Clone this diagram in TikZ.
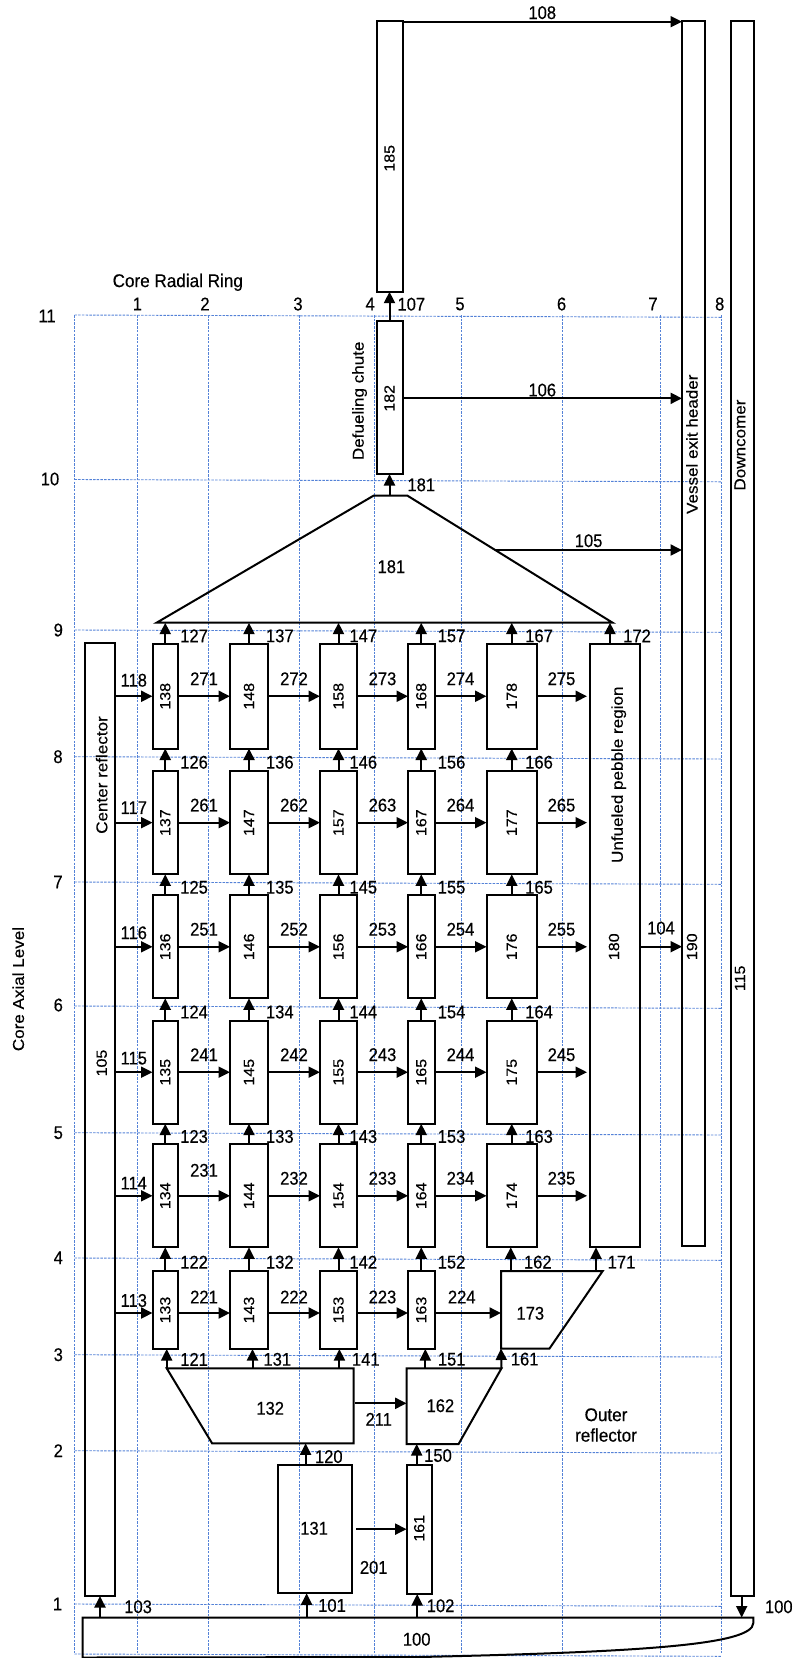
\documentclass[tikz,border=0pt]{standalone}
\usepackage{fontspec}
\setmainfont{Liberation Sans}
\newfontfamily\Hf[FakeStretch=0.9,FakeBold=0.3]{Liberation Sans}
\newfontfamily\Wf[FakeStretch=0.93,FakeBold=0.3]{Liberation Sans}
\newfontfamily\Vf[FakeStretch=1.08,FakeBold=0.3]{Liberation Sans}
\usetikzlibrary{arrows.meta,calc}
\definecolor{gridblue}{RGB}{84,130,215}
\newcommand\hfs{\Hf\fontsize{18.4}{20}\selectfont}
\newcommand\hws{\Wf\fontsize{18.4}{20.5}\selectfont}
\newcommand\vws{\Vf\fontsize{15.8}{19}\selectfont}
\newcommand\vns{\Vf\fontsize{14.8}{17}\selectfont}
% horizontal arrows of one row: #1 row, #2 prefix, #3 y offset, #4 shift of 11x label, #5 shift of first ring label, #6 shift of other ring labels
\newcommand\rowar[6]{%
\draw[ar] ($(c1#1.west -| n105.east)+(0,#3)$) -- ($(c1#1.west)+(0,#3)$) node[hl, midway, yshift=#4pt] (l11#1) {11#1};
\draw[ar] ($(c1#1.east)+(0,#3)$) -- ($(c2#1.west)+(0,#3)$) node[hl, midway, yshift=#5pt] (l#21) {#21};
\draw[ar] ($(c2#1.east)+(0,#3)$) -- ($(c3#1.west)+(0,#3)$) node[hl, midway, yshift=#6pt] (l#22) {#22};
\draw[ar] ($(c3#1.east)+(0,#3)$) -- ($(c4#1.west)+(0,#3)$) node[hl, midway, yshift=#6pt] (l#23) {#23};}
\newcommand\rowend[2]{%
\draw[ar] (c4#1.east) -- (c5#1.west) node[hl, midway, yshift=17.5pt] (l#24) {#24};
\draw[ar, shorten >=3pt] (c5#1.east) -- (c5#1.east -| n180.west) node[hl, midway, yshift=17.5pt, xshift=-2pt] (l#25) {#25};}
\begin{document}
\begin{tikzpicture}[x=1pt,y=-1pt,
 bx/.style={draw, line width=2pt, inner sep=0pt, outer sep=0pt},
 sh/.style={line width=2pt},
 ar/.style={line width=2pt, -{Triangle[length=11.5pt,width=11pt]}},
 gl/.style={draw=gridblue, line width=0.9pt, dash pattern=on 2.5pt off 1.2pt},
 hl/.style={font=\hfs, inner sep=0pt},
 hw/.style={font=\hws, inner sep=0pt},
 vl/.style={font=\vns, inner sep=0pt, rotate=90},
 vw/.style={font=\vws, inner sep=0pt, rotate=90},
 vlab/.style={font=\hfs, inner sep=0pt, midway, anchor=west}]
\useasboundingbox (0,0) rectangle (793,1658);
% grid
\foreach \gx in {74.5,137.5,208.5,299.5,374,461,562.5,660.5,721}
  \draw[gl] (\gx,315) -- (\gx,1654);
\foreach \gy in {315,479.5,630,756.7,882,1006,1132.7,1258,1354.7,1450.7,1604,1654}
  \draw[gl] (74.5,\gy) -- (721,\gy+2.3);
% axis labels
\foreach \lv/\gy/\lx in {11/316/47,10/479/50,9/630/58.3,8/756.7/58,7/882/58,6/1005/58.3,5/1132.7/58.3,4/1257.7/58.3,3/1354.7/58.3,2/1450.7/58.3,1/1604/57.5}
  \node[hl] (lev\lv) at (\lx,\gy) {\lv};
\foreach \rg/\rx in {1/137.4,2/205,3/298,4/370.2,5/460,6/561.6,7/653,8/719.7}
  \node[hl] (ring\rg) at (\rx,304) {\rg};
\node[hw] (radial) at (177.8,282.3) {Core Radial Ring};
\node[vw] (axial) at (18.3,989) {Core Axial Level};
% large boxes
\node[bx, minimum width=50pt, minimum height=603.3pt] (n180) at (615,945.65) {};
\node[bx, minimum width=23pt, minimum height=1225pt] (n190) at (693.5,633.2) {};
\node[bx, minimum width=22.5pt, minimum height=1575.3pt] (n115) at (742.25,808.35) {};
\node[bx, minimum width=30pt, minimum height=953.3pt] (n105) at (100,1119.35) {};
\node[bx, minimum width=26pt, minimum height=271pt] (n185) at (389.5,156.2) {};
\node[bx, minimum width=26pt, minimum height=153.3pt] (n182) at (389.5,397.35) {};
\node[bx, minimum width=74.2pt, minimum height=128.3pt] (n131) at (314.9,1529.15) {};
\node[bx, minimum width=25.2pt, minimum height=129pt] (n161) at (419.2,1529.5) {};
\node[vw] (t180w) at (618.7,774.7) {Unfueled pebble region};
\node[vl] (t180) at (614,946.7) {180};
\node[vw] (t190w) at (692,444.2) {Vessel exit header};
\node[vl] (t190) at (692,946.7) {190};
\node[vw] (t115w) at (740,445) {Downcomer};
\node[vl] (t115) at (740,978.3) {115};
\node[vw] (t105w) at (101.7,775) {Center reflector};
\node[vl] (t105) at (101.7,1063) {105};
\node[vl] (t185) at (389.5,158.3) {185};
\node[vl] (t182) at (389.5,398.3) {182};
\node[vw] (t182w) at (359.6,400.8) {Defueling chute};
\node[hl] (t131) at (314.1,1528.3) {131};
\node[vl] (t161) at (419.2,1528.3) {161};
% column boxes
\foreach \ci/\cx/\cw/\ct in {1/165.25/25.5/13, 2/249/38/14, 3/338.5/37/15, 4/421.25/26.5/16, 5/511.75/50.5/17}{
  \foreach \ri/\cy/\ch in {4/1195.8/103, 5/1072.2/103, 6/946.8/103, 7/822.65/103.3, 8/696.25/104.5}{
    \node[bx, minimum width=\cw pt, minimum height=\ch pt] (c\ci\ri) at (\cx,\cy) {};
    \node[vl] (t\ci\ri) at (\cx,\cy) {\ct\ri};
  }}
\foreach \ci/\cx/\cw/\ct in {1/165.25/25.5/13, 2/249/38/14, 3/338.5/37/15, 4/421.25/26.5/16}{
  \node[bx, minimum width=\cw pt, minimum height=78pt] (c\ci3) at (\cx,1310) {};
  \node[vl] (t\ci3) at (\cx,1310) {\ct3};}
% trapezoids
\coordinate (a181bl) at (156.6,622.7);
\coordinate (a181tl) at (373.5,495.7);
\coordinate (a181tr) at (407.5,495.7);
\coordinate (a181br) at (612.6,622.7);
\draw[sh] (a181bl) -- (a181tl) -- (a181tr) -- (a181br) -- cycle;
\node[hl] (t181) at (391.4,566.7) {181};
\coordinate (a132tl) at (166.7,1368.3);
\coordinate (a132tr) at (353.5,1368.3);
\coordinate (a132br) at (353.5,1443.3);
\coordinate (a132bl) at (212.1,1443.3);
\draw[sh] (a132tl) -- (a132tr) -- (a132br) -- (a132bl) -- cycle;
\node[hl] (t132) at (270.2,1408.3) {132};
\coordinate (a162tl) at (406.6,1368.3);
\coordinate (a162tr) at (501.5,1368.3);
\coordinate (a162br) at (458.6,1444);
\coordinate (a162bl) at (406.6,1444);
\draw[sh] (a162tl) -- (a162tr) -- (a162br) -- (a162bl) -- cycle;
\node[hl] (t162) at (440.4,1405.7) {162};
\coordinate (a173tl) at (501,1271);
\coordinate (a173tr) at (602.7,1271);
\coordinate (a173br) at (549.5,1348.5);
\coordinate (a173bl) at (501,1348.5);
\draw[sh] (a173tl) -- (a173tr) -- (a173br) -- (a173bl) -- cycle;
\node[hl] (t173) at (530.3,1313.3) {173};
\coordinate (a100tl) at (82.7,1617.5);
\coordinate (a100tr) at (753.3,1617.5);
\draw[sh] (a100tl) -- (a100tr) -- (753.3,1623) .. controls (753,1645) and (640,1652) .. (420,1657) -- (82.7,1657.5) -- cycle;
\node[hl] (t100) at (416.7,1639.3) {100};
\node[hw, align=center] (outer) at (606,1425) {Outer\\reflector};
% top arrows
\coordinate (s108) at ($(n185.north east)+(0,1)$);
\draw[ar] (s108) -- (s108 -| n190.west) node[hl, midway, yshift=9pt] (l108) {108};
\draw[ar] (n182.north) -- (n185.south) node[vlab, xshift=7pt, yshift=2pt] (l107) {107};
\coordinate (s106) at ($(n182.east)+(0,1)$);
\draw[ar] (s106) -- (s106 -| n190.west) node[hl, midway, yshift=8.3pt] (l106) {106};
\coordinate (s105) at ($(a181tr)!0.4276!(a181br)$);
\draw[ar] (s105) -- (s105 -| n190.west) node[hl, midway, yshift=9.3pt] (l105) {105};
\draw[ar] (n182.south |- a181tl) -- (n182.south) node[vlab, xshift=17pt] (l181) {181};
% horizontal arrows in core
\rowar{8}{27}{0}{16}{17.5}{17.5}
\rowar{7}{26}{0}{15}{17.5}{17.5}
\rowar{6}{25}{0}{14}{17.5}{17.5}
\rowar{5}{24}{0}{14}{17.5}{17.5}
\rowar{4}{23}{0}{12.7}{25.5}{17.5}
\rowar{3}{22}{3}{12.5}{16}{16}
\foreach \ri/\pp in {8/27,7/26,6/25,5/24,4/23}{\rowend{\ri}{\pp}}
\draw[ar] ($(c43.east)+(0,3)$) -- ($(c43.east -| a173tl)+(0,3)$) node[hl, midway, yshift=16pt, xshift=-6pt] (l224) {224};
\draw[ar] (n180.east |- t180) -- (n190.west |- t180) node[hl, midway, yshift=18.7pt] (l104) {104};
% vertical arrows in core
\foreach \ci/\tt/\dx in {1/2/14, 2/3/16, 3/4/10, 4/5/15.5, 5/6/12.5}{
  \foreach \ri/\nn/\uu in {4/5/3, 5/6/4, 6/7/5, 7/8/6}{
    \draw[ar] (c\ci\ri.north) -- (c\ci\nn.south) node[vlab, xshift=\dx pt, yshift=-2.5pt] (v1\tt\uu) {1\tt\uu};}
  \draw[ar] (c\ci8.north) -- (c\ci8.north |- a181bl) node[vlab, xshift=\dx pt, yshift=-2.5pt] (v1\tt7) {1\tt7};
}
\foreach \ci/\tt/\dx in {1/2/14, 2/3/16, 3/4/10, 4/5/15.5}{
  \draw[ar] (c\ci3.north) -- (c\ci4.south) node[vlab, xshift=\dx pt, yshift=-3pt] (v1\tt2) {1\tt2};}
\coordinate (x162) at (510.7,0);
\draw[ar] (x162 |- a173tl) -- (x162 |- c54.south) node[vlab, xshift=12.3pt, yshift=-3pt] (v162) {162};
\coordinate (x171) at (596,0);
\draw[ar] (x171 |- a173tl) -- (x171 |- n180.south) node[vlab, xshift=10.7pt, yshift=-3pt] (v171) {171};
\coordinate (x172) at (610,0);
\draw[ar] (x172 |- n180.north) -- (x172 |- a181bl) node[vlab, xshift=12.2pt, yshift=-2.5pt] (v172) {172};
% lower arrows
\foreach \nm/\xx/\dx/\src/\dst in {121/166.7/12.6/a132tl/c13, 131/252.5/10/a132tl/c23, 141/339.4/11.6/a132tl/c33, 151/425.3/11.6/a162tl/c43}{
  \coordinate (x\nm) at (\xx,0);
  \draw[ar] (x\nm |- \src) -- (x\nm |- \dst.south) node[vlab, xshift=\dx pt, yshift=-0.7pt] (v\nm) {\nm};}
\draw[ar] (a162tr) -- (a173bl) node[vlab, xshift=8.6pt, yshift=-0.7pt] (v161) {161};
\coordinate (x120) at (305.6,0);
\draw[ar] (x120 |- n131.north) -- (x120 |- a132bl) node[vlab, xshift=8.4pt, yshift=-2.5pt] (v120) {120};
\coordinate (x150) at (416.7,0);
\draw[ar] (x150 |- n161.north) -- (x150 |- a162bl) node[vlab, xshift=6.5pt, yshift=-1pt] (v150) {150};
\coordinate (s211) at (355,1403.3);
\draw[ar] (s211) -- (s211 -| a162tl) node[hl, midway, yshift=-16pt, xshift=-2pt] (l211) {211};
\draw[ar] ($(n131.east)+(4,0)$) -- (n131.east -| n161.west) node[hl, midway, yshift=-38.3pt, xshift=-7.6pt] (l201) {201};
\coordinate (x103) at (100,0);
\draw[ar] (x103 |- a100tl) -- (n105.south) node[vlab, xshift=23.3pt] (v103) {103};
\coordinate (x101) at (306.6,0);
\draw[ar] (x101 |- a100tl) -- (x101 |- n131.south) node[vlab, xshift=10.6pt] (v101) {101};
\coordinate (x102) at (417.2,0);
\draw[ar] (x102 |- a100tl) -- (x102 |- n161.south) node[vlab, xshift=8.6pt] (v102) {102};
\coordinate (x100) at (741.7,0);
\draw[ar] (x100 |- n115.south) -- (x100 |- a100tl) node[vlab, xshift=22.3pt] (v100) {100};
\end{tikzpicture}
\end{document}
